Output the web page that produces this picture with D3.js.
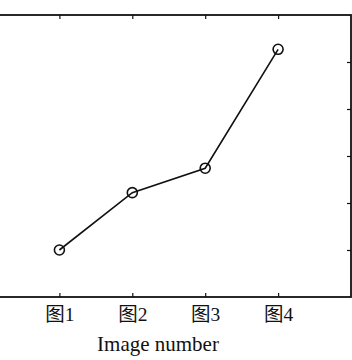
<!DOCTYPE html>
<html lang="en">
<head>
  <meta charset="utf-8">
  <title>Image number</title>
  <script src="https://cdn.jsdelivr.net/npm/d3@7"></script>
  <style>
    body { margin: 0; background: #fff; }
    text { font-family: "Liberation Serif", "Noto Sans CJK SC", serif; fill: #111; }
  </style>
</head>
<body>
  <script>
    // data
    let imageIndex = [1, 2, 3, 4];
    let imageLabels = ["图1", "图2", "图3", "图4"];
    let values = [1.0, 2.22, 2.74, 5.27];
    let yTicks = [1, 2, 3, 4, 5];

    let width = 352, height = 360;
    let plotTop = 15, plotBottom = 297;
    let tickLen = 4;

    let svg = d3.select("body").append("svg")
      .attr("width", width)
      .attr("height", height);

    // x scale: the left edge of the box is cut off in the reference
    let xScale = d3.scaleLinear().domain([0, 5]).range([-13.5, 351]);
    let yScale = d3.scaleLinear().domain([0, 6]).range([plotBottom, plotTop]);

    // the frame
    svg.append("rect")
      .attr("x", xScale(0))
      .attr("y", plotTop)
      .attr("width", xScale(5) - xScale(0))
      .attr("height", plotBottom - plotTop)
      .attr("fill", "none")
      .attr("stroke", "#111")
      .attr("stroke-width", 1.8);

    // bottom axis with inward ticks
    let xAxis = d3.axisBottom(xScale)
      .tickValues(imageIndex)
      .tickSizeInner(-tickLen)
      .tickSizeOuter(0)
      .tickPadding(10)
      .tickFormat((d, i) => imageLabels[i]);
    let xAxisG = svg.append("g")
      .attr("transform", `translate(0, ${plotBottom})`)
      .call(xAxis);
    xAxisG.select(".domain").remove();
    xAxisG.selectAll("line").attr("stroke", "#111").attr("stroke-width", 1.2);
    xAxisG.selectAll("text")
      .attr("font-size", 19.5)
      .attr("fill", "#111");

    // top axis, ticks only
    let xTopG = svg.append("g")
      .attr("transform", `translate(0, ${plotTop})`)
      .call(d3.axisTop(xScale).tickValues(imageIndex).tickSizeInner(-tickLen).tickSizeOuter(0).tickFormat(""));
    xTopG.select(".domain").remove();
    xTopG.selectAll("line").attr("stroke", "#111").attr("stroke-width", 1.2);

    // right axis, ticks only (labels are cut off)
    let yRightG = svg.append("g")
      .attr("transform", `translate(${xScale(5)}, 0)`)
      .call(d3.axisRight(yScale).tickValues(yTicks).tickSizeInner(-tickLen).tickSizeOuter(0).tickFormat(""));
    yRightG.select(".domain").remove();
    yRightG.selectAll("line").attr("stroke", "#111").attr("stroke-width", 1.2);

    // the line
    let line = d3.line()
      .x((d, i) => xScale(imageIndex[i]))
      .y(d => yScale(d));
    svg.append("path")
      .datum(values)
      .attr("d", line)
      .attr("fill", "none")
      .attr("stroke", "#111")
      .attr("stroke-width", 1.6);

    // the markers
    svg.selectAll(".point").data(values).join("circle")
      .attr("class", "point")
      .attr("cx", (d, i) => xScale(imageIndex[i]))
      .attr("cy", d => yScale(d))
      .attr("r", 5)
      .attr("fill", "none")
      .attr("stroke", "#111")
      .attr("stroke-width", 1.6);

    // x label
    svg.append("text")
      .attr("x", 158)
      .attr("y", 351)
      .attr("text-anchor", "middle")
      .attr("font-size", 21)
      .text("Image number");
  </script>
</body>
</html>
